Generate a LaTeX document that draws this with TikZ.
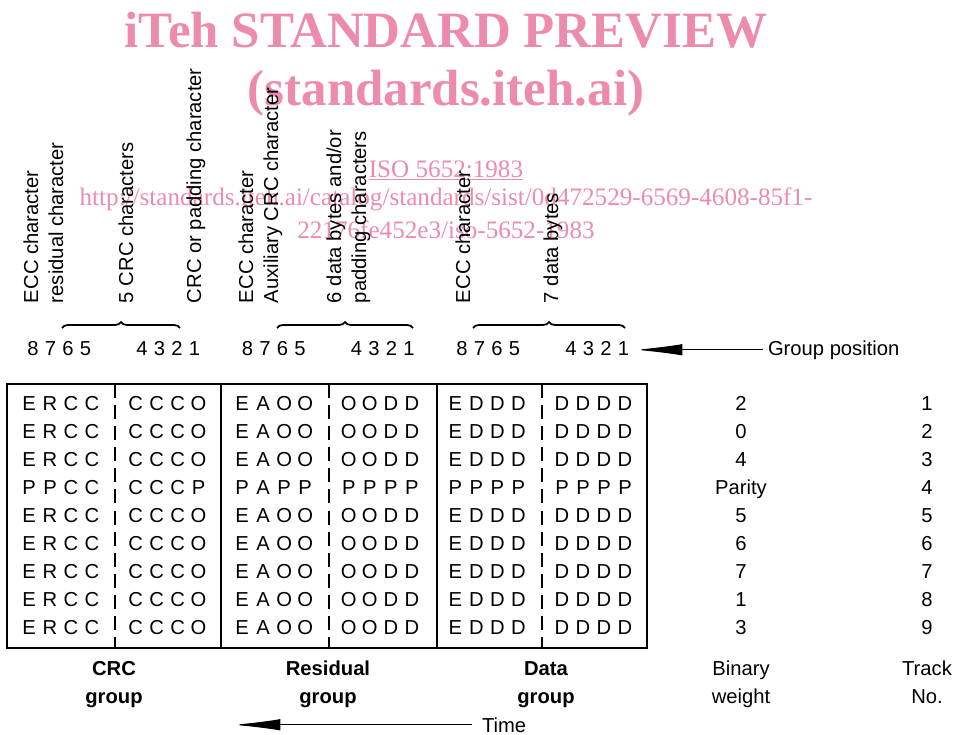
\documentclass[tikz,border=0pt]{standalone}
\usepackage{fontspec}
\setmainfont{Liberation Sans}
\newfontfamily\wmfont{Liberation Serif}
\usetikzlibrary{arrows.meta,decorations.pathreplacing}
\definecolor{wmpink}{RGB}{236,140,170}

% one row of the table: six groups of four characters
\def\plainrow{E/R/C/C, C/C/C/O, E/A/O/O, O/O/D/D, E/D/D/D, D/D/D/D}
\def\parityrow{P/P/C/C, C/C/C/P, P/A/P/P, P/P/P/P, P/P/P/P, P/P/P/P}

\begin{document}
\begin{tikzpicture}[x=0.02cm,y=-0.02cm,
  every node/.style={inner sep=0pt,outer sep=0pt},
  lbl/.style={font=\fontsize{11.5}{13}\selectfont},
  vlbl/.style={lbl,rotate=90,anchor=base west},
  cell/.style={lbl,anchor=base},
  boldcell/.style={cell,font=\fontsize{11.5}{13}\selectfont\bfseries},
  grpbrace/.style={decorate,decoration={brace,amplitude=0.12cm},line width=1pt},
  bigarrow/.style={-{Latex[length=27pt,width=6.5pt]},line width=0.6pt},
  dashline/.style={line width=0.8pt,dash pattern=on 8pt off 4pt},
  wmhead/.style={wmpink,anchor=base,font=\wmfont\bfseries\fontsize{29}{32}\selectfont},
  wmurl/.style={wmpink,anchor=base,font=\wmfont\fontsize{14.3}{16}\selectfont}]
\useasboundingbox (0,0) rectangle (957,734);

% watermark
\node[wmhead] (wm1) at (446,47) {iTeh STANDARD PREVIEW};
\node[wmhead] (wm2) at (446,105) {(standards.iteh.ai)};
\node[wmurl] (wm3) at (446,177) {\underline{ISO 5652:1983}};
\node[wmurl] (wm4) at (446,205) {http://standards.iteh.ai/catalog/standards/sist/0d472529-6569-4608-85f1-};
\node[wmurl] (wm5) at (446,238) {22176fe452e3/iso-5652-1983};

% character names
\node[vlbl] (eccA) at (38,303) {ECC character};
\node[vlbl] (resA) at (63,303) {residual character};
\node[vlbl] (crcA) at (133,303) {5 CRC characters};
\node[vlbl] (padA) at (201,303) {CRC or padding character};
\node[vlbl] (eccB) at (253,303) {ECC character};
\node[vlbl] (auxB) at (278,303) {Auxiliary CRC character};
\node[vlbl] (datB) at (341,303) {6 data bytes and/or};
\node[vlbl] (padB) at (366,303) {padding characters};
\node[vlbl] (eccC) at (470,303) {ECC character};
\node[vlbl] (datC) at (558,303) {7 data bytes};

% braces over the groups
\draw[grpbrace] (62,328) -- (180,328);
\draw[grpbrace] (277,328) -- (413,328);
\draw[grpbrace] (473,328) -- (625,328);

% group positions
\foreach \g in {0,1,2}{
  \foreach \d [count=\i from 0] in {8,7,6,5}
    \node[cell] (gp-\g-\d) at ({33+214.5*\g+17.5*\i},355) {\d};
  \foreach \d [count=\i from 0] in {4,3,2,1}
    \node[cell] (gp-\g-\d) at ({142+214.5*\g+17.5*\i},355) {\d};
}
\node[cell,anchor=base west] (gpos) at (768,355) {Group position};
\coordinate (gpend) at (635,348);
\draw[bigarrow] ([xshift=-0.1cm]gpos.west) -- (gpend |- gpos.west);

% the table
\draw[line width=1.4pt] (7,384) rectangle (647,648);
\foreach \x in {221,437} \draw[line width=0.9pt] (\x,384) -- (\x,648);
\foreach \x in {115,329,542} \draw[dashline] (\x,384) -- (\x,648);

\foreach \r in {0,...,8}{
  \ifnum\r=3 \let\row\parityrow \else \let\row\plainrow \fi
  \foreach \la/\lb/\lc/\ld [count=\h from 0] in \row {
    \node[cell] (t-\r-\h-a) at ({29+106.6*\h},{410+28*\r}) {\la};
    \node[cell] (t-\r-\h-b) at ({50+106.6*\h},{410+28*\r}) {\lb};
    \node[cell] (t-\r-\h-c) at ({71+106.6*\h},{410+28*\r}) {\lc};
    \node[cell] (t-\r-\h-d) at ({92+106.6*\h},{410+28*\r}) {\ld};
  }
}

% binary weight and track number
\foreach \w [count=\r from 0] in {2,0,4,Parity,5,6,7,1,3}
  \node[cell] (bw-\r) at (741,{410+28*\r}) {\w};
\foreach \t [count=\r from 0] in {1,...,9}
  \node[cell] (tn-\r) at (927,{410+28*\r}) {\t};

% captions
\node[boldcell] (crcgrp1) at (114,675) {CRC};
\node[boldcell] (crcgrp2) at (114,703) {group};
\node[boldcell] (resgrp1) at (328,675) {Residual};
\node[boldcell] (resgrp2) at (328,703) {group};
\node[boldcell] (datgrp1) at (546,675) {Data};
\node[boldcell] (datgrp2) at (546,703) {group};
\node[cell] (binw1) at (741,675) {Binary};
\node[cell] (binw2) at (741,703) {weight};
\node[cell] (trk1) at (927,675) {Track};
\node[cell] (trk2) at (927,703) {No.};

% time arrow
\node[cell,anchor=base west] (time) at (482,732) {Time};
\coordinate (timeend) at (233,726);
\draw[bigarrow] ([xshift=-0.2cm]time.west) -- (timeend |- time.west);
\end{tikzpicture}
\end{document}
